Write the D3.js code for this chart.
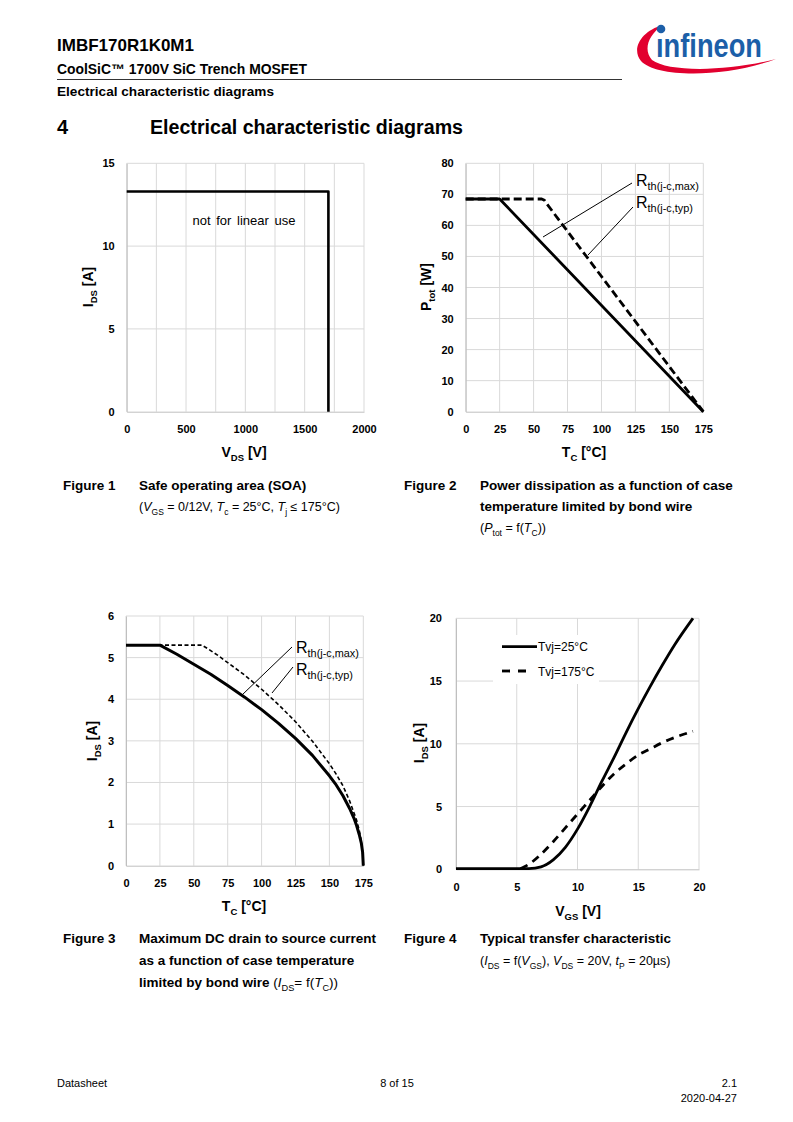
<!DOCTYPE html>
<html>
<head>
<meta charset="utf-8">
<script src="https://cdn.jsdelivr.net/npm/d3@7"></script>
<style>
  body { margin: 0; background: #fff; }
  svg text { font-family: "Liberation Sans Narrow", "Liberation Sans", Arial, sans-serif; fill: #000; }
  .tick text { font-family: "Liberation Sans", Arial, sans-serif; font-weight: bold; font-size: 11px; }
  .ttl { font-family: "Liberation Sans", Arial, sans-serif; font-weight: bold; font-size: 14px; }
  .ann { font-family: "Liberation Sans", Arial, sans-serif; }
</style>
</head>
<body>
<svg id="page" width="793" height="1122"></svg>
<script>
// ---- data ----
// Figure 1: SOA
var soaV = [0, 1700, 1700];
var soaI = [13.3, 13.3, 0];
var soaXTicks = [0, 500, 1000, 1500, 2000];
var soaYTicks = [0, 5, 10, 15];

// Figure 2: Ptot vs Tc
var ptotTmax = [0, 25, 175];
var ptotMax = [68.5, 68.5, 0];
var ptotTtyp = [0, 56, 58, 60, 175];
var ptotTyp = [68.5, 68.5, 68.1, 66.8, 0];
var tcTicks = [0, 25, 50, 75, 100, 125, 150, 175];
var ptotYTicks = [0, 10, 20, 30, 40, 50, 60, 70, 80];

// Figure 3: Ids vs Tc
var idTmax = [0, 25, 37.5, 50, 62.5, 75, 87.5, 100, 112.5, 125, 137.5, 150, 155, 160, 165, 168, 170, 172, 173.5, 174.5, 175];
var idMax = [5.3, 5.3, 5.08, 4.84, 4.6, 4.33, 4.05, 3.75, 3.42, 3.06, 2.65, 2.16, 1.94, 1.68, 1.37, 1.15, 0.97, 0.75, 0.55, 0.32, 0];
var idTtyp = [0, 56, 60, 67.5, 75, 87.5, 100, 112.5, 125, 137.5, 150, 155, 160, 165, 168, 170, 172, 173.5, 174.5, 175];
var idTyp = [5.3, 5.3, 5.22, 5.06, 4.88, 4.58, 4.24, 3.87, 3.46, 2.99, 2.45, 2.2, 1.92, 1.55, 1.28, 1.1, 0.85, 0.6, 0.35, 0];
var idYTicks = [0, 1, 2, 3, 4, 5, 6];

// Figure 4: transfer characteristic
var vgs25 = [0, 5, 6, 7, 8, 9, 10, 11, 12, 13, 14, 15, 16, 17, 18, 19.5];
var ids25 = [0.05, 0.05, 0.06, 0.2, 0.75, 1.75, 3.2, 5.0, 7.0, 8.9, 10.9, 12.8, 14.6, 16.3, 17.9, 20];
var vgs175 = [5.3, 6, 7, 8, 9, 10, 11, 12, 13, 14, 15, 16, 17, 18, 19.5];
var ids175 = [0.05, 0.4, 1.2, 2.2, 3.3, 4.4, 5.5, 6.6, 7.6, 8.4, 9.1, 9.6, 10.1, 10.5, 11.0];
var vgsTicks = [0, 5, 10, 15, 20];
var ids4Ticks = [0, 5, 10, 15, 20];

var svg = d3.select("#page");
var zip = function(xs, ys) { return xs.map(function(x, i) { return [x, ys[i]]; }); };

// text with subscript / italic parts: parts = [[str, kind], ...]
function rich(g, x, y, parts, opts) {
  var t = g.append("text").attr("x", x).attr("y", y)
    .attr("class", opts.cls || null)
    .attr("font-size", opts.size || null)
    .attr("font-weight", opts.weight || null)
    .attr("text-anchor", opts.anchor || "start");
  if (opts.rotate) t.attr("transform", "rotate(-90," + x + "," + y + ")");
  var fs = opts.size || (opts.cls == "ttl" ? 14 : 13);
  var shift = 0;
  parts.forEach(function(p) {
    var s = t.append("tspan").text(p[0]);
    var want = (p[1] == "sub" || p[1] == "itsub") ? Math.round(fs * 0.28) : 0;
    if (want != shift) { s.attr("dy", want - shift); shift = want; }
    if (p[1] == "sub" || p[1] == "itsub") s.attr("font-size", fs * 0.68);
    if (p[1] == "it") s.attr("font-style", "italic");
    if (p[2]) s.attr("font-weight", p[2]);
  });
  return t;
}

function chart(o) {
  var g = svg.append("g");
  var x = d3.scaleLinear().domain(o.xd).range([o.l, o.r]);
  var y = d3.scaleLinear().domain(o.yd).range([o.b, o.t]);
  // grid
  g.append("g").selectAll("line").data(o.xgrid).enter().append("line")
    .attr("x1", x).attr("x2", x).attr("y1", o.t).attr("y2", o.b)
    .attr("stroke", "#d9d9d9").attr("stroke-width", 1);
  g.append("g").selectAll("line").data(o.ygrid).enter().append("line")
    .attr("y1", y).attr("y2", y).attr("x1", o.l).attr("x2", o.r)
    .attr("stroke", "#d9d9d9").attr("stroke-width", 1);
  // axes
  g.append("g").attr("transform", "translate(0," + o.b + ")")
    .call(d3.axisBottom(x).tickValues(o.xt).tickFormat(d3.format("d")).tickSize(0).tickPadding(o.xpad || 14))
    .call(function(a) { a.select(".domain").attr("stroke", "#bfbfbf"); });
  g.append("g").attr("transform", "translate(" + o.l + ",0)")
    .call(d3.axisLeft(y).tickValues(o.yt).tickFormat(d3.format("d")).tickSize(0).tickPadding(o.ypad || 12))
    .call(function(a) { a.select(".domain").attr("stroke", "#bfbfbf"); });
  return { g: g, x: x, y: y };
}

function curve(c, pts, width, dash, cv) {
  var line = d3.line().x(function(d) { return c.x(d[0]); }).y(function(d) { return c.y(d[1]); })
    .curve(cv || d3.curveLinear);
  c.g.append("path").datum(pts).attr("d", line).attr("fill", "none")
    .attr("stroke", "#000").attr("stroke-width", width)
    .attr("stroke-dasharray", dash || null).attr("stroke-linejoin", "round");
}

// ---- header ----
var hd = svg.append("g");
hd.append("text").attr("x", 57).attr("y", 51).attr("font-weight", "bold").attr("font-size", 17)
  .attr("textLength", 137).attr("lengthAdjust", "spacingAndGlyphs").text("IMBF170R1K0M1");
hd.append("text").attr("x", 57).attr("y", 74).attr("font-weight", "bold").attr("font-size", 14)
  .attr("textLength", 250).attr("lengthAdjust", "spacingAndGlyphs").text("CoolSiC™ 1700V SiC Trench MOSFET");
hd.append("line").attr("x1", 57).attr("x2", 622).attr("y1", 79.5).attr("y2", 79.5).attr("stroke", "#000").attr("stroke-width", 0.8);
hd.append("text").attr("x", 57).attr("y", 96).attr("font-weight", "bold").attr("font-size", 13)
  .attr("textLength", 217).attr("lengthAdjust", "spacingAndGlyphs").text("Electrical characteristic diagrams");
hd.append("text").attr("x", 57).attr("y", 134).attr("font-weight", "bold").attr("font-size", 20).text("4");
hd.append("text").attr("x", 150).attr("y", 134).attr("font-weight", "bold").attr("font-size", 20)
  .attr("textLength", 313).attr("lengthAdjust", "spacingAndGlyphs").text("Electrical characteristic diagrams");

// logo
var logo = svg.append("g");
logo.append("path")
  .attr("d", "M663,25 C641,31 631,49 641,61 C655,77 722,79 776,59 C726,72 668,72 652,60 C643,50 648,35 663,25 Z")
  .attr("fill", "#e2002f");
logo.append("text").attr("x", 656).attr("y", 57).attr("font-size", 33).attr("font-weight", "bold")
  .attr("textLength", 106).attr("lengthAdjust", "spacingAndGlyphs")
  .style("fill", "#1c5fa8").text("ınfineon");
logo.append("circle").attr("cx", 661).attr("cy", 29).attr("r", 4.3).attr("fill", "#1c5fa8");

// ---- Figure 1 ----
var c1 = chart({ xd: [0, 2000], yd: [0, 15], l: 126.7, r: 364, t: 163.3, b: 411.7,
  xgrid: d3.range(0, 2001, 250), ygrid: [5, 10, 15], xt: soaXTicks, yt: soaYTicks });
curve(c1, zip(soaV, soaI), 2.6);
c1.g.append("text").attr("class", "ann").attr("x", 244).attr("y", 225).attr("text-anchor", "middle")
  .attr("font-size", 13).attr("word-spacing", 2).text("not for linear use");
rich(svg, 93, 287, [["I", ""], ["DS", "sub"], [" [A]", ""]], { cls: "ttl", anchor: "middle", rotate: true });
rich(svg, 244, 457, [["V", ""], ["DS", "sub"], [" [V]", ""]], { cls: "ttl", anchor: "middle" });

// ---- Figure 2 ----
var c2 = chart({ xd: [0, 175], yd: [0, 80], l: 465.7, r: 703.3, t: 163.3, b: 411.7,
  xgrid: d3.range(0, 176, 25), ygrid: d3.range(10, 81, 10), xt: tcTicks, yt: ptotYTicks });
curve(c2, zip(ptotTtyp, ptotTyp), 2.8, "8,4");
curve(c2, zip(ptotTmax, ptotMax), 2.8);
c2.g.append("line").attr("x1", 543).attr("y1", 237).attr("x2", 632).attr("y2", 183).attr("stroke", "#000").attr("stroke-width", 1);
c2.g.append("line").attr("x1", 588).attr("y1", 255).attr("x2", 633).attr("y2", 207).attr("stroke", "#000").attr("stroke-width", 1);
rich(c2.g, 636, 186, [["R", ""], ["th(j-c,max)", "sub"]], { cls: "ann", size: 16 });
rich(c2.g, 636, 208, [["R", ""], ["th(j-c,typ)", "sub"]], { cls: "ann", size: 16 });
rich(svg, 431, 287, [["P", ""], ["tot", "sub"], [" [W]", ""]], { cls: "ttl", anchor: "middle", rotate: true });
rich(svg, 584, 457, [["T", ""], ["C", "sub"], [" [°C]", ""]], { cls: "ttl", anchor: "middle" });

// ---- Figure 3 ----
var c3 = chart({ xd: [0, 175], yd: [0, 6], l: 126, r: 363.3, t: 616, b: 865.7,
  xgrid: d3.range(0, 176, 25), ygrid: d3.range(1, 7, 1), xt: tcTicks, yt: idYTicks });
curve(c3, zip(idTtyp, idTyp), 1.6, "4,2.5");
curve(c3, zip(idTmax, idMax), 3);
c3.g.append("line").attr("x1", 242).attr("y1", 695).attr("x2", 292).attr("y2", 647).attr("stroke", "#000").attr("stroke-width", 1);
c3.g.append("line").attr("x1", 272).attr("y1", 693).attr("x2", 293).attr("y2", 667).attr("stroke", "#000").attr("stroke-width", 1);
rich(c3.g, 296, 653, [["R", ""], ["th(j-c,max)", "sub"]], { cls: "ann", size: 16 });
rich(c3.g, 296, 675, [["R", ""], ["th(j-c,typ)", "sub"]], { cls: "ann", size: 16 });
rich(svg, 97, 741, [["I", ""], ["DS", "sub"], [" [A]", ""]], { cls: "ttl", anchor: "middle", rotate: true });
rich(svg, 244, 911, [["T", ""], ["C", "sub"], [" [°C]", ""]], { cls: "ttl", anchor: "middle" });

// ---- Figure 4 ----
var c4 = chart({ xd: [0, 20], yd: [0, 20], l: 456, r: 699, t: 618.3, b: 869.3,
  xgrid: d3.range(0, 21, 5), ygrid: d3.range(5, 21, 5), xt: vgsTicks, yt: ids4Ticks, ypad: 14 });
// legend box hides the grid behind it
c4.g.append("rect").attr("x", 493).attr("y", 635).attr("width", 106).attr("height", 49).attr("fill", "#fff");
curve(c4, zip(vgs175, ids175), 2.8, "8,6", d3.curveMonotoneX);
curve(c4, zip(vgs25, ids25), 2.8, null, d3.curveMonotoneX);
c4.g.append("line").attr("x1", 502).attr("x2", 537).attr("y1", 646.7).attr("y2", 646.7).attr("stroke", "#000").attr("stroke-width", 2.8);
c4.g.append("line").attr("x1", 502).attr("x2", 533).attr("y1", 671).attr("y2", 671).attr("stroke", "#000").attr("stroke-width", 2.8).attr("stroke-dasharray", "8,8");
c4.g.append("text").attr("x", 538).attr("y", 651).attr("font-size", 12).attr("font-family", "Liberation Sans").text("Tvj=25°C");
c4.g.append("text").attr("x", 538).attr("y", 675.5).attr("font-size", 12).attr("font-family", "Liberation Sans").text("Tvj=175°C");
rich(svg, 424, 743, [["I", ""], ["DS", "sub"], [" [A]", ""]], { cls: "ttl", anchor: "middle", rotate: true });
rich(svg, 578, 916, [["V", ""], ["GS", "sub"], [" [V]", ""]], { cls: "ttl", anchor: "middle" });

// ---- captions ----
var cap = svg.append("g");
function capLine(x, y, parts, bold) {
  return rich(cap, x, y, parts, { weight: bold ? "bold" : null, size: bold ? 13.5 : 12.5 });
}
capLine(63, 490, [["Figure 1", ""]], true);
capLine(139, 490, [["Safe operating area (SOA)", ""]], true);
capLine(139, 511, [["(", ""], ["V", "it"], ["GS", "itsub"], [" = 0/12V, ", ""], ["T", "it"], ["c", "itsub"], [" = 25°C, ", ""], ["T", "it"], ["j", "itsub"], [" ≤ 175°C)", ""]], false);
capLine(404, 490, [["Figure 2", ""]], true);
capLine(480, 490, [["Power dissipation as a function of case", ""]], true);
capLine(480, 511, [["temperature limited by bond wire", ""]], true);
capLine(480, 532, [["(", ""], ["P", "it"], ["tot", "itsub"], [" = f(", ""], ["T", "it"], ["C", "itsub"], ["))", ""]], false);
capLine(63, 943, [["Figure 3", ""]], true);
capLine(139, 943, [["Maximum DC drain to source current", ""]], true);
capLine(139, 965, [["as a function of case temperature", ""]], true);
rich(cap, 139, 987, [["limited by bond wire ", ""], ["(", "", "normal"], ["I", "it", "normal"], ["DS", "itsub", "normal"],
  ["= f(", "", "normal"], ["T", "it", "normal"], ["C", "itsub", "normal"], ["))", "", "normal"]], { weight: "bold", size: 13.5 });
capLine(404, 943, [["Figure 4", ""]], true);
capLine(480, 943, [["Typical transfer characteristic", ""]], true);
capLine(480, 965, [["(", ""], ["I", "it"], ["DS", "itsub"], [" = f(", ""], ["V", "it"], ["GS", "itsub"], ["), ", ""], ["V", "it"], ["DS", "itsub"], [" = 20V, ", ""], ["t", "it"], ["P", "itsub"], [" = 20µs)", ""]], false);

// ---- footer ----
var ft = svg.append("g").attr("font-size", 11);
ft.append("text").attr("x", 57).attr("y", 1087).text("Datasheet");
ft.append("text").attr("x", 397).attr("y", 1087).attr("text-anchor", "middle").text("8 of 15");
ft.append("text").attr("x", 737).attr("y", 1087).attr("text-anchor", "end").text("2.1");
ft.append("text").attr("x", 737).attr("y", 1102).attr("text-anchor", "end").text("2020-04-27");
</script>
</body>
</html>
